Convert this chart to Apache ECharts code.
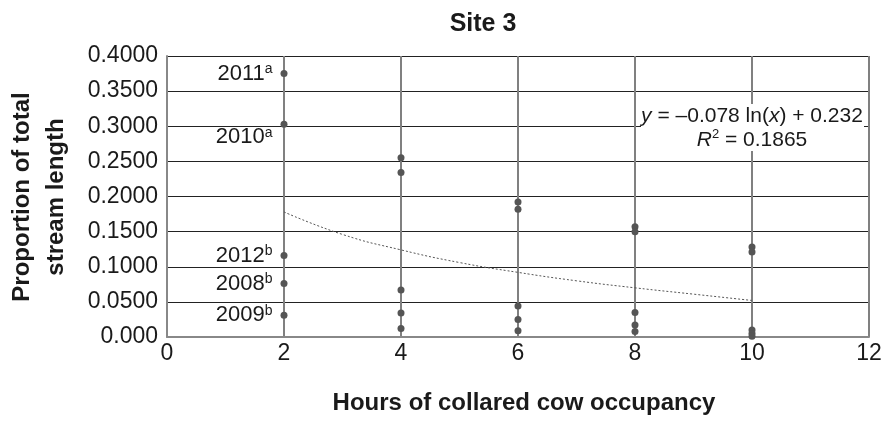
<!DOCTYPE html>
<html>
<head>
<meta charset="utf-8">
<script src="https://cdn.jsdelivr.net/npm/echarts@6/dist/echarts.min.js"></script>
<style>html,body{margin:0;padding:0;background:#fff}#c{width:894px;height:438px}</style>
</head>
<body>
<div id="c"></div>
<script>
const xTicks = [0, 2, 4, 6, 8, 10, 12];
const yTickLabels = ['0.000', '0.0500', '0.1000', '0.1500', '0.2000', '0.2500', '0.3000', '0.3500', '0.4000'];
const hoursX = [2, 4, 6, 8, 10];
const valuesAt2 = [0.375, 0.303, 0.116, 0.076, 0.031];
const yearLabelsAt2 = ['2011', '2010', '2012', '2008', '2009'];
const yearSupAt2 = ['a', 'a', 'b', 'b', 'b'];
const valuesAt4 = [0.255, 0.234, 0.067, 0.034, 0.012];
const valuesAt6 = [0.192, 0.182, 0.044, 0.025, 0.009];
const valuesAt8 = [0.157, 0.150, 0.035, 0.017, 0.008];
const valuesAt10 = [0.128, 0.121, 0.010, 0.005, 0.001];
const trendX = [2, 3, 4, 5, 6, 7, 8, 9, 10];
const trendY = [0.178, 0.146, 0.124, 0.106, 0.092, 0.080, 0.070, 0.061, 0.052];

const FONT = '"Liberation Sans", Arial, sans-serif';
const TXT = '#1a1a1a';
const valueSets = [valuesAt2, valuesAt4, valuesAt6, valuesAt8, valuesAt10];

const scatterData = [];
valueSets.forEach((vals, i) => {
  vals.forEach((v, j) => {
    const item = { value: [hoursX[i], v] };
    if (i === 0) {
      item.label = {
        show: true,
        position: 'left',
        distance: 8,
        color: TXT,
        formatter: '{y|' + yearLabelsAt2[j] + '}{s|' + yearSupAt2[j] + '}',
        offset: yearLabelsAt2[j] === '2010' ? [0, 13] : [0, 0]
      };
    }
    scatterData.push(item);
  });
});

const chart = echarts.init(document.getElementById('c'), null, { renderer: 'canvas' });
chart.setOption({
  animation: false,
  backgroundColor: '#fff',
  grid: { left: 167, right: 25, top: 56, bottom: 101 },
  xAxis: {
    type: 'value', min: 0, max: 12, interval: 2,
    axisLine: { show: true, lineStyle: { color: '#888', width: 2 } },
    axisTick: { show: false },
    axisLabel: { color: TXT, fontSize: 23, fontFamily: FONT, margin: 5,
      formatter: v => (xTicks.indexOf(v) >= 0 ? String(v) : '') },
    splitLine: { show: true, lineStyle: { color: '#808080', width: 2 } }
  },
  yAxis: {
    type: 'value', min: 0, max: 0.4, interval: 0.05,
    axisLine: { show: true, lineStyle: { color: '#888', width: 2 } },
    axisTick: { show: false },
    axisLabel: { color: TXT, fontSize: 23, fontFamily: FONT, margin: 9,
      formatter: (v) => yTickLabels[Math.round(v / 0.05)] },
    splitLine: { show: true, lineStyle: { color: '#222', width: 1 } }
  },
  series: [
    {
      type: 'line',
      data: trendX.map((x, i) => [x, trendY[i]]),
      smooth: true,
      showSymbol: false,
      lineStyle: { color: '#555', width: 1, type: [2, 2] },
      z: 3
    },
    {
      type: 'scatter',
      data: scatterData,
      symbolSize: 7,
      itemStyle: { color: '#555', opacity: 1 },
      label: {
        color: TXT,
        rich: {
          y: { fontSize: 22, fontFamily: FONT, color: TXT },
          s: { fontSize: 14, fontFamily: FONT, color: TXT, verticalAlign: 'top' }
        }
      },
      z: 4
    }
  ],
  graphic: [
    { type: 'text', x: 483, y: 24, z: 10,
      style: { text: 'Site 3', font: 'bold 25px ' + FONT, fill: TXT, textAlign: 'center', textVerticalAlign: 'middle' } },
    { type: 'text', x: 524, y: 403, z: 10,
      style: { text: 'Hours of collared cow occupancy', font: 'bold 24px ' + FONT, fill: TXT, textAlign: 'center', textVerticalAlign: 'middle' } },
    { type: 'text', x: 39, y: 197, rotation: Math.PI / 2, z: 10,
      style: { text: 'Proportion of total\nstream length', font: 'bold 24px ' + FONT, fill: TXT, textAlign: 'center', textVerticalAlign: 'middle', lineHeight: 34 } },
    { type: 'rect', z: 20, shape: { x: 641, y: 104, width: 223, height: 47 }, style: { fill: '#fff' } },
    { type: 'text', x: 752, y: 128, z: 21,
      style: {
        text: '{i|y} = –0.078 ln({i|x}) + 0.232\n{i|R}{p|2} = 0.1865',
        font: '21px ' + FONT, fill: TXT, textAlign: 'center', textVerticalAlign: 'middle', lineHeight: 24,
        rich: {
          i: { fontStyle: 'italic', fontSize: 21, fontFamily: FONT, fill: TXT },
          p: { fontSize: 13, fontFamily: FONT, fill: TXT, verticalAlign: 'top' }
        }
      } }
  ]
});
</script>
</body>
</html>
